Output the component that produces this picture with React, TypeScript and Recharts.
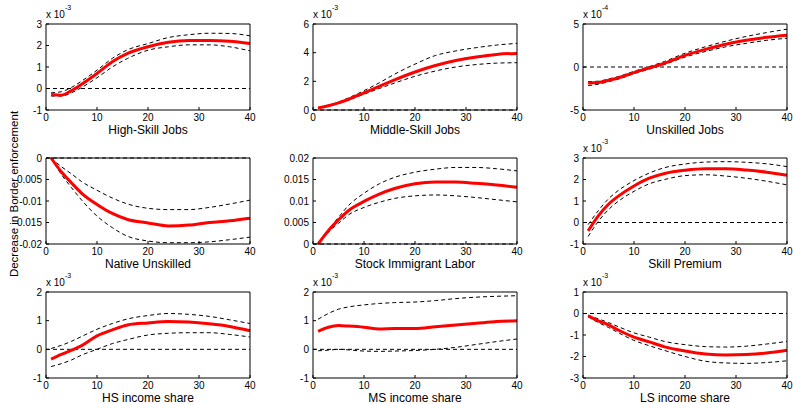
import { LineChart, Line, XAxis, YAxis, ReferenceLine } from "recharts";

// ---------------------------------------------------------------------------
// Data — impulse responses (mean + error bands)
// ---------------------------------------------------------------------------

const PERIODS = [1, 3, 5, 7, 10, 13, 16, 20, 24, 28, 32, 36, 40];
const X_TICKS = [0, 10, 20, 30, 40];

// High-Skill Jobs (x 10^-3)
const HSJ_MEAN = [-0.28, -0.31, -0.1, 0.2, 0.7, 1.24, 1.63, 1.94, 2.15, 2.23, 2.23, 2.2, 2.09];
const HSJ_UP = [-0.2, -0.15, 0.05, 0.35, 0.85, 1.4, 1.8, 2.09, 2.37, 2.5, 2.57, 2.56, 2.45];
const HSJ_LO = [-0.35, -0.35, -0.2, 0.05, 0.5, 1.0, 1.4, 1.78, 1.94, 2.03, 2.03, 1.94, 1.75];

// Middle-Skill Jobs (x 10^-3)
const MSJ_MEAN = [0.15, 0.3, 0.5, 0.75, 1.2, 1.65, 2.1, 2.65, 3.1, 3.45, 3.7, 3.88, 3.95];
const MSJ_UP = [0.15, 0.33, 0.55, 0.85, 1.35, 1.9, 2.5, 3.2, 3.8, 4.12, 4.35, 4.53, 4.65];
const MSJ_LO = [0.1, 0.27, 0.45, 0.7, 1.1, 1.5, 1.88, 2.35, 2.72, 3.0, 3.17, 3.27, 3.3];

// Unskilled Jobs (x 10^-4)
const USJ_MEAN = [-1.85, -1.8, -1.55, -1.25, -0.65, -0.1, 0.45, 1.35, 2.05, 2.65, 3.1, 3.45, 3.7];
const USJ_UP = [-1.7, -1.65, -1.4, -1.1, -0.5, 0.05, 0.65, 1.6, 2.35, 3.0, 3.55, 4.0, 4.4];
const USJ_LO = [-2.15, -2.0, -1.7, -1.4, -0.78, -0.25, 0.3, 1.15, 1.8, 2.35, 2.75, 3.1, 3.35];

// Native Unskilled
const NU_MEAN = [0, -0.0032, -0.0058, -0.0082, -0.0108, -0.0129, -0.0143, -0.0151, -0.0158, -0.0156, -0.015, -0.0146, -0.014];
const NU_UP = [0, -0.002, -0.0037, -0.0055, -0.0075, -0.0093, -0.0107, -0.0117, -0.012, -0.012, -0.0115, -0.0107, -0.0098];
const NU_LO = [0, -0.0038, -0.0069, -0.0098, -0.0135, -0.0162, -0.0182, -0.0193, -0.0197, -0.0197, -0.0195, -0.019, -0.0184];

// Stock Immigrant Labor
const SIL_MEAN = [0, 0.0031, 0.0056, 0.0078, 0.0099, 0.0116, 0.0129, 0.014, 0.0144, 0.0144, 0.0141, 0.0137, 0.0132];
const SIL_UP = [0, 0.0033, 0.0062, 0.009, 0.0118, 0.014, 0.0155, 0.0167, 0.0174, 0.0178, 0.0178, 0.0175, 0.017];
const SIL_LO = [0, 0.0027, 0.0048, 0.0068, 0.0085, 0.0097, 0.0106, 0.0112, 0.0114, 0.0112, 0.0108, 0.0103, 0.0098];

// Skill Premium (x 10^-3)
const SP_MEAN = [-0.39, 0.31, 0.85, 1.24, 1.7, 2.06, 2.28, 2.43, 2.5, 2.5, 2.44, 2.34, 2.2];
const SP_UP = [-0.1, 0.55, 1.1, 1.5, 1.95, 2.3, 2.55, 2.72, 2.81, 2.83, 2.8, 2.73, 2.6];
const SP_LO = [-0.65, 0.05, 0.6, 1.0, 1.45, 1.8, 2.0, 2.18, 2.22, 2.16, 2.06, 1.92, 1.75];

// HS income share (x 10^-3)
const HSI_MEAN = [-0.34, -0.18, -0.03, 0.13, 0.47, 0.68, 0.85, 0.92, 0.97, 0.95, 0.89, 0.8, 0.65];
const HSI_UP = [0.03, 0.14, 0.28, 0.45, 0.7, 0.9, 1.06, 1.18, 1.25, 1.22, 1.15, 1.03, 0.9];
const HSI_LO = [-0.6, -0.5, -0.37, -0.2, 0.0, 0.2, 0.34, 0.5, 0.56, 0.58, 0.58, 0.52, 0.43];

// MS income share (x 10^-3)
const MSI_MEAN = [0.63, 0.77, 0.83, 0.81, 0.77, 0.71, 0.73, 0.73, 0.79, 0.85, 0.91, 0.97, 1.0];
const MSI_UP = [1.05, 1.25, 1.4, 1.48, 1.55, 1.6, 1.63, 1.65, 1.7, 1.77, 1.82, 1.85, 1.87];
const MSI_LO = [-0.05, -0.03, 0, -0.02, -0.06, -0.07, -0.06, -0.04, 0, 0.07, 0.17, 0.27, 0.36];

// LS income share (x 10^-3)
const LSI_MEAN = [-0.11, -0.34, -0.53, -0.78, -1.1, -1.32, -1.55, -1.74, -1.88, -1.93, -1.91, -1.84, -1.71];
const LSI_UP = [-0.08, -0.25, -0.42, -0.62, -0.9, -1.1, -1.3, -1.45, -1.54, -1.56, -1.52, -1.42, -1.3];
const LSI_LO = [-0.15, -0.42, -0.65, -0.9, -1.25, -1.5, -1.72, -2.0, -2.22, -2.3, -2.32, -2.28, -2.2];

// ---------------------------------------------------------------------------
// Layout
// ---------------------------------------------------------------------------

const FONT = "Arial, 'Liberation Sans', Helvetica, sans-serif";
const PLOT_W = 204;
const PLOT_H = 86;
const Y_AXIS_W = 44;
const X_AXIS_H = 34;
const TOP_PAD = 4;
const RIGHT_PAD = 10;
const COL_X = [46, 313, 583];
const ROW_Y = [24, 158, 292];

interface PanelSpec {
  title: string;
  mean: number[];
  up: number[];
  lo: number[];
  yDomain: [number, number];
  yTicks: number[];
  exp?: string;
  col: number;
  row: number;
}

const PANELS: PanelSpec[] = [
  { title: "High-Skill Jobs", mean: HSJ_MEAN, up: HSJ_UP, lo: HSJ_LO, yDomain: [-1, 3], yTicks: [-1, 0, 1, 2, 3], exp: "-3", col: 0, row: 0 },
  { title: "Middle-Skill Jobs", mean: MSJ_MEAN, up: MSJ_UP, lo: MSJ_LO, yDomain: [0, 6], yTicks: [0, 2, 4, 6], exp: "-3", col: 1, row: 0 },
  { title: "Unskilled Jobs", mean: USJ_MEAN, up: USJ_UP, lo: USJ_LO, yDomain: [-5, 5], yTicks: [-5, 0, 5], exp: "-4", col: 2, row: 0 },
  { title: "Native Unskilled", mean: NU_MEAN, up: NU_UP, lo: NU_LO, yDomain: [-0.02, 0], yTicks: [-0.02, -0.015, -0.01, -0.005, 0], col: 0, row: 1 },
  { title: "Stock Immigrant Labor", mean: SIL_MEAN, up: SIL_UP, lo: SIL_LO, yDomain: [0, 0.02], yTicks: [0, 0.005, 0.01, 0.015, 0.02], col: 1, row: 1 },
  { title: "Skill Premium", mean: SP_MEAN, up: SP_UP, lo: SP_LO, yDomain: [-1, 3], yTicks: [-1, 0, 1, 2, 3], exp: "-3", col: 2, row: 1 },
  { title: "HS income share", mean: HSI_MEAN, up: HSI_UP, lo: HSI_LO, yDomain: [-1, 2], yTicks: [-1, 0, 1, 2], exp: "-3", col: 0, row: 2 },
  { title: "MS income share", mean: MSI_MEAN, up: MSI_UP, lo: MSI_LO, yDomain: [-1, 2], yTicks: [-1, 0, 1, 2], exp: "-3", col: 1, row: 2 },
  { title: "LS income share", mean: LSI_MEAN, up: LSI_UP, lo: LSI_LO, yDomain: [-3, 1], yTicks: [-3, -2, -1, 0, 1], exp: "-3", col: 2, row: 2 },
];

const tickStyle = { fontSize: 10, fill: "#000", fontFamily: FONT };

function Panel({ spec }: { spec: PanelSpec }) {
  const rows = PERIODS.map((t, i) => ({ t, mean: spec.mean[i], up: spec.up[i], lo: spec.lo[i] }));
  const left = COL_X[spec.col];
  const top = ROW_Y[spec.row];
  return (
    <div style={{ position: "absolute", left: left - Y_AXIS_W, top: top - TOP_PAD }}>
      <LineChart
        width={Y_AXIS_W + PLOT_W + RIGHT_PAD}
        height={TOP_PAD + PLOT_H + X_AXIS_H}
        data={rows}
        margin={{ top: TOP_PAD, right: RIGHT_PAD, bottom: 0, left: 0 }}
      >
        {/* bottom axis: labels + inward ticks */}
        <XAxis
          dataKey="t"
          type="number"
          domain={[0, 40]}
          ticks={X_TICKS}
          interval={0}
          height={X_AXIS_H}
          tickSize={-3}
          tickMargin={7}
          stroke="#000"
          tick={tickStyle}
          label={{ value: spec.title, position: "insideBottom", offset: 10, fontSize: 12, fill: "#000", fontFamily: FONT }}
        />
        {/* top edge of the box */}
        <XAxis xAxisId="top" orientation="top" mirror type="number" domain={[0, 40]} ticks={X_TICKS} interval={0} tick={false} tickSize={3} stroke="#000" />
        <YAxis
          type="number"
          domain={spec.yDomain}
          ticks={spec.yTicks}
          interval={0}
          width={Y_AXIS_W}
          tickSize={-3}
          tickMargin={7}
          stroke="#000"
          tick={tickStyle}
        />
        {/* right edge of the box */}
        <YAxis yAxisId="right" orientation="right" mirror type="number" domain={spec.yDomain} ticks={spec.yTicks} interval={0} tick={false} tickSize={3} stroke="#000" />

        <ReferenceLine y={0} stroke="#000" strokeDasharray="4 3" strokeWidth={1} />

        <Line type="monotone" dataKey="up" stroke="#000" strokeWidth={1} strokeDasharray="4 3" dot={false} isAnimationActive={false} />
        <Line type="monotone" dataKey="lo" stroke="#000" strokeWidth={1} strokeDasharray="4 3" dot={false} isAnimationActive={false} />
        <Line type="monotone" dataKey="mean" stroke="#ff0000" strokeWidth={3} dot={false} isAnimationActive={false} />
      </LineChart>
    </div>
  );
}

export default function App() {
  return (
    <div style={{ position: "absolute", left: 0, top: 0, width: 793, height: 404, background: "#fff", overflow: "hidden" }}>
      {PANELS.map((p) => (
        <Panel key={p.title} spec={p} />
      ))}
      {/* shared y label and scale multipliers */}
      <svg width={793} height={404} style={{ position: "absolute", left: 0, top: 0, pointerEvents: "none" }}>
        <text transform="rotate(-90)" x={-194} y={18} textAnchor="middle" fontSize={11.5} fontFamily={FONT} fill="#000">
          Decrease in Border enforcement
        </text>
        {PANELS.filter((p) => p.exp).map((p) => (
          <text key={p.title} x={COL_X[p.col]} y={ROW_Y[p.row] - 6} fontSize={10} fontFamily={FONT} fill="#000">
            x 10
            <tspan dy={-8} fontSize={7}>
              {p.exp}
            </tspan>
          </text>
        ))}
      </svg>
    </div>
  );
}
